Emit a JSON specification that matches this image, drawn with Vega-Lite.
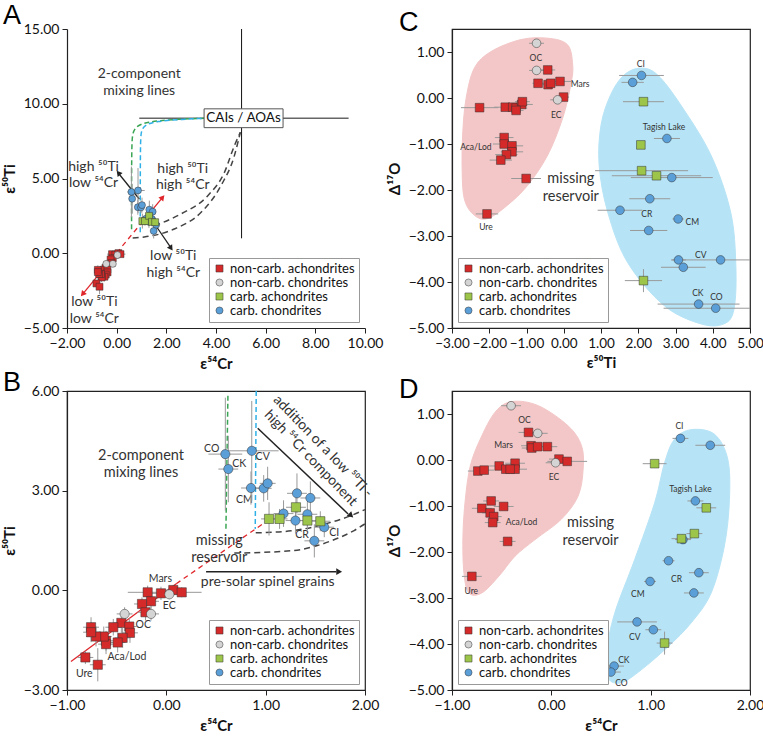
{
"$schema":"https://vega.github.io/schema/vega-lite/v6.json",
"padding":{"left":1,"top":2,"right":0,"bottom":2},
"background":"white",
"datasets":{
"AB":[
{"x":-0.188,"y":-0.06,"ex":0.2,"ey":0.2,"k":"non-carb. achondrites"},
{"x":-0.054,"y":-0.09,"ex":0.1,"ey":0.2,"k":"non-carb. achondrites"},
{"x":0.07,"y":0.01,"ex":0.1,"ey":0.15,"k":"non-carb. achondrites"},
{"x":0.155,"y":-0.06,"ex":0.2,"ey":0.15,"k":"non-carb. achondrites"},
{"x":-0.154,"y":-0.33,"ex":0.08,"ey":0.2,"k":"non-carb. achondrites"},
{"x":-0.245,"y":-0.41,"ex":0.08,"ey":0.2,"k":"non-carb. achondrites"},
{"x":-0.21,"y":-0.66,"ex":0.08,"ey":0.25,"k":"non-carb. achondrites"},
{"x":-0.453,"y":-0.98,"ex":0.08,"ey":0.3,"k":"non-carb. achondrites"},
{"x":-0.534,"y":-1.11,"ex":0.08,"ey":0.25,"k":"non-carb. achondrites"},
{"x":-0.373,"y":-1.09,"ex":0.08,"ey":0.25,"k":"non-carb. achondrites"},
{"x":-0.366,"y":-1.28,"ex":0.08,"ey":0.3,"k":"non-carb. achondrites"},
{"x":-0.44,"y":-1.43,"ex":0.08,"ey":0.3,"k":"non-carb. achondrites"},
{"x":-0.49,"y":-1.57,"ex":0.08,"ey":0.3,"k":"non-carb. achondrites"},
{"x":-0.607,"y":-1.52,"ex":0.08,"ey":0.3,"k":"non-carb. achondrites"},
{"x":-0.607,"y":-1.62,"ex":0.08,"ey":0.3,"k":"non-carb. achondrites"},
{"x":-0.63,"y":-1.39,"ex":0.08,"ey":0.3,"k":"non-carb. achondrites"},
{"x":-0.708,"y":-1.39,"ex":0.1,"ey":0.3,"k":"non-carb. achondrites"},
{"x":-0.758,"y":-1.11,"ex":0.08,"ey":0.3,"k":"non-carb. achondrites"},
{"x":-0.758,"y":-1.26,"ex":0.08,"ey":0.3,"k":"non-carb. achondrites"},
{"x":-0.815,"y":-2.02,"ex":0.08,"ey":0.2,"k":"non-carb. achondrites"},
{"x":-0.69,"y":-2.24,"ex":0.08,"ey":0.5,"k":"non-carb. achondrites"},
{"x":0.03,"y":-0.12,"ex":0.08,"ey":0.15,"k":"non-carb. chondrites"},
{"x":-0.154,"y":-0.71,"ex":0.08,"ey":0.2,"k":"non-carb. chondrites"},
{"x":-0.42,"y":-0.71,"ex":0.08,"ey":0.2,"k":"non-carb. chondrites"},
{"x":0.594,"y":4.10,"ex":0.17,"ey":1.7,"k":"carb. chondrites"},
{"x":0.624,"y":3.65,"ex":0.1,"ey":1.0,"k":"carb. chondrites"},
{"x":0.86,"y":4.20,"ex":0.27,"ey":1.5,"k":"carb. chondrites"},
{"x":0.852,"y":3.08,"ex":0.1,"ey":0.5,"k":"carb. chondrites"},
{"x":0.98,"y":3.07,"ex":0.08,"ey":0.4,"k":"carb. chondrites"},
{"x":1.02,"y":3.22,"ex":0.08,"ey":0.5,"k":"carb. chondrites"},
{"x":1.18,"y":2.31,"ex":0.1,"ey":0.4,"k":"carb. chondrites"},
{"x":1.315,"y":2.92,"ex":0.1,"ey":0.6,"k":"carb. chondrites"},
{"x":1.45,"y":2.78,"ex":0.1,"ey":0.5,"k":"carb. chondrites"},
{"x":1.30,"y":2.10,"ex":0.1,"ey":0.4,"k":"carb. chondrites"},
{"x":1.42,"y":2.29,"ex":0.1,"ey":0.4,"k":"carb. chondrites"},
{"x":1.59,"y":1.90,"ex":0.1,"ey":0.3,"k":"carb. chondrites"},
{"x":1.49,"y":1.49,"ex":0.1,"ey":0.5,"k":"carb. chondrites"},
{"x":1.034,"y":2.15,"ex":0.08,"ey":0.5,"k":"carb. achondrites"},
{"x":1.14,"y":2.15,"ex":0.08,"ey":0.3,"k":"carb. achondrites"},
{"x":1.305,"y":2.50,"ex":0.1,"ey":0.4,"k":"carb. achondrites"},
{"x":1.42,"y":2.10,"ex":0.1,"ey":0.3,"k":"carb. achondrites"},
{"x":1.55,"y":2.08,"ex":0.1,"ey":0.3,"k":"carb. achondrites"}
],
"C":[
{"x":-0.43,"y":0.61,"ex":0.2,"ey":0,"k":"non-carb. achondrites"},
{"x":-0.69,"y":0.32,"ex":0.15,"ey":0,"k":"non-carb. achondrites"},
{"x":-0.42,"y":0.29,"ex":0.15,"ey":0,"k":"non-carb. achondrites"},
{"x":-0.35,"y":0.32,"ex":0.2,"ey":0,"k":"non-carb. achondrites"},
{"x":-0.10,"y":0.36,"ex":0.3,"ey":0,"k":"non-carb. achondrites"},
{"x":-0.005,"y":0.02,"ex":0.15,"ey":0,"k":"non-carb. achondrites"},
{"x":-2.26,"y":-0.21,"ex":0.5,"ey":0,"k":"non-carb. achondrites"},
{"x":-1.57,"y":-0.20,"ex":0.3,"ey":0,"k":"non-carb. achondrites"},
{"x":-1.37,"y":-0.20,"ex":0.3,"ey":0,"k":"non-carb. achondrites"},
{"x":-1.28,"y":-0.22,"ex":0.3,"ey":0,"k":"non-carb. achondrites"},
{"x":-1.13,"y":-0.14,"ex":0.3,"ey":0,"k":"non-carb. achondrites"},
{"x":-1.11,"y":-0.08,"ex":0.2,"ey":0,"k":"non-carb. achondrites"},
{"x":-1.28,"y":-0.27,"ex":0.2,"ey":0,"k":"non-carb. achondrites"},
{"x":-1.60,"y":-0.86,"ex":0.25,"ey":0,"k":"non-carb. achondrites"},
{"x":-1.60,"y":-1.0,"ex":0.3,"ey":0,"k":"non-carb. achondrites"},
{"x":-1.39,"y":-1.04,"ex":0.3,"ey":0,"k":"non-carb. achondrites"},
{"x":-1.39,"y":-1.17,"ex":0.3,"ey":0,"k":"non-carb. achondrites"},
{"x":-1.54,"y":-1.23,"ex":0.3,"ey":0,"k":"non-carb. achondrites"},
{"x":-1.69,"y":-1.35,"ex":0.3,"ey":0,"k":"non-carb. achondrites"},
{"x":-1.01,"y":-1.75,"ex":0.4,"ey":0,"k":"non-carb. achondrites"},
{"x":-2.06,"y":-2.52,"ex":0.3,"ey":0,"k":"non-carb. achondrites"},
{"x":-0.73,"y":1.19,"ex":0.2,"ey":0,"k":"non-carb. chondrites"},
{"x":-0.73,"y":0.60,"ex":0.2,"ey":0,"k":"non-carb. chondrites"},
{"x":-0.165,"y":-0.04,"ex":0.2,"ey":0,"k":"non-carb. chondrites"},
{"x":2.087,"y":0.49,"ex":0.6,"ey":0,"k":"carb. chondrites"},
{"x":1.85,"y":0.34,"ex":0.3,"ey":0,"k":"carb. chondrites"},
{"x":2.77,"y":-0.88,"ex":0.35,"ey":0,"k":"carb. chondrites"},
{"x":2.90,"y":-1.73,"ex":1.1,"ey":0,"k":"carb. chondrites"},
{"x":2.31,"y":-2.19,"ex":0.55,"ey":0,"k":"carb. chondrites"},
{"x":1.51,"y":-2.44,"ex":0.6,"ey":0,"k":"carb. chondrites"},
{"x":3.07,"y":-2.63,"ex":0.15,"ey":0,"k":"carb. chondrites"},
{"x":2.28,"y":-2.88,"ex":0.5,"ey":0,"k":"carb. chondrites"},
{"x":3.08,"y":-3.52,"ex":0.2,"ey":0,"k":"carb. chondrites"},
{"x":3.21,"y":-3.68,"ex":0.6,"ey":0,"k":"carb. chondrites"},
{"x":4.21,"y":-3.52,"ex":1.3,"ey":0,"k":"carb. chondrites"},
{"x":3.62,"y":-4.48,"ex":1.1,"ey":0,"k":"carb. chondrites"},
{"x":4.08,"y":-4.57,"ex":1.4,"ey":0,"k":"carb. chondrites"},
{"x":2.14,"y":-0.08,"ex":0.55,"ey":0,"k":"carb. achondrites"},
{"x":2.07,"y":-1.02,"ex":0.1,"ey":0,"k":"carb. achondrites"},
{"x":2.09,"y":-1.58,"ex":1.25,"ey":0,"k":"carb. achondrites"},
{"x":2.49,"y":-1.69,"ex":1.2,"ey":0,"k":"carb. achondrites"},
{"x":2.14,"y":-3.97,"ex":0.5,"ey":0.25,"k":"carb. achondrites"}
],
"D":[
{"x":-0.23,"y":0.60,"ex":0.1,"ey":0,"k":"non-carb. achondrites"},
{"x":-0.204,"y":0.31,"ex":0.1,"ey":0,"k":"non-carb. achondrites"},
{"x":-0.197,"y":0.26,"ex":0.1,"ey":0,"k":"non-carb. achondrites"},
{"x":-0.137,"y":0.29,"ex":0.1,"ey":0,"k":"non-carb. achondrites"},
{"x":-0.04,"y":0.29,"ex":0.1,"ey":0,"k":"non-carb. achondrites"},
{"x":0.077,"y":0.02,"ex":0.1,"ey":0,"k":"non-carb. achondrites"},
{"x":0.16,"y":-0.03,"ex":0.2,"ey":0,"k":"non-carb. achondrites"},
{"x":-0.74,"y":-0.24,"ex":0.1,"ey":0,"k":"non-carb. achondrites"},
{"x":-0.676,"y":-0.22,"ex":0.1,"ey":0,"k":"non-carb. achondrites"},
{"x":-0.525,"y":-0.13,"ex":0.1,"ey":0,"k":"non-carb. achondrites"},
{"x":-0.458,"y":-0.20,"ex":0.1,"ey":0,"k":"non-carb. achondrites"},
{"x":-0.365,"y":-0.07,"ex":0.1,"ey":0,"k":"non-carb. achondrites"},
{"x":-0.365,"y":-0.20,"ex":0.12,"ey":0,"k":"non-carb. achondrites"},
{"x":-0.415,"y":-0.20,"ex":0.1,"ey":0,"k":"non-carb. achondrites"},
{"x":-0.606,"y":-0.89,"ex":0.08,"ey":0,"k":"non-carb. achondrites"},
{"x":-0.70,"y":-1.05,"ex":0.1,"ey":0,"k":"non-carb. achondrites"},
{"x":-0.48,"y":-1.01,"ex":0.1,"ey":0,"k":"non-carb. achondrites"},
{"x":-0.616,"y":-1.15,"ex":0.08,"ey":0,"k":"non-carb. achondrites"},
{"x":-0.58,"y":-1.23,"ex":0.08,"ey":0,"k":"non-carb. achondrites"},
{"x":-0.59,"y":-1.36,"ex":0.08,"ey":0,"k":"non-carb. achondrites"},
{"x":-0.44,"y":-1.77,"ex":0.08,"ey":0,"k":"non-carb. achondrites"},
{"x":-0.80,"y":-2.53,"ex":0.1,"ey":0,"k":"non-carb. achondrites"},
{"x":-0.405,"y":1.18,"ex":0.1,"ey":0,"k":"non-carb. chondrites"},
{"x":-0.137,"y":0.58,"ex":0.1,"ey":0,"k":"non-carb. chondrites"},
{"x":0.043,"y":-0.06,"ex":0.1,"ey":0,"k":"non-carb. chondrites"},
{"x":1.30,"y":0.47,"ex":0.08,"ey":0,"k":"carb. chondrites"},
{"x":1.60,"y":0.32,"ex":0.15,"ey":0,"k":"carb. chondrites"},
{"x":1.45,"y":-0.89,"ex":0.08,"ey":0,"k":"carb. chondrites"},
{"x":1.325,"y":-1.73,"ex":0.08,"ey":0,"k":"carb. chondrites"},
{"x":1.18,"y":-2.19,"ex":0.06,"ey":0,"k":"carb. chondrites"},
{"x":1.485,"y":-2.45,"ex":0.1,"ey":0,"k":"carb. chondrites"},
{"x":0.994,"y":-2.64,"ex":0.06,"ey":0,"k":"carb. chondrites"},
{"x":1.435,"y":-2.89,"ex":0.1,"ey":0,"k":"carb. chondrites"},
{"x":0.863,"y":-3.52,"ex":0.2,"ey":0,"k":"carb. chondrites"},
{"x":1.027,"y":-3.69,"ex":0.08,"ey":0,"k":"carb. chondrites"},
{"x":0.632,"y":-4.48,"ex":0.1,"ey":0,"k":"carb. chondrites"},
{"x":0.60,"y":-4.61,"ex":0.1,"ey":0,"k":"carb. chondrites"},
{"x":1.04,"y":-0.08,"ex":0.12,"ey":0,"k":"carb. achondrites"},
{"x":1.56,"y":-1.04,"ex":0.1,"ey":0,"k":"carb. achondrites"},
{"x":1.44,"y":-1.60,"ex":0.08,"ey":0,"k":"carb. achondrites"},
{"x":1.31,"y":-1.71,"ex":0.1,"ey":0,"k":"carb. achondrites"},
{"x":1.14,"y":-3.98,"ex":0.08,"ey":0.25,"k":"carb. achondrites"}
]
},
"config":{
"font":"Lato",
"view":{"stroke":"#222","strokeWidth":1.2},
"axis":{"labelFont":"Lato","labelFontSize":14,"labelColor":"#111","titleFont":"Lato","titleFontSize":15,"titleFontWeight":"bold","titleColor":"#111","domainColor":"#222","domainWidth":1.2,"tickColor":"#222","tickSize":5,"grid":false,"labelPadding":3,"titlePadding":6,"labelFlush":false,"labelOverlap":false},
"title":{"anchor":"start","frame":"group","fontSize":27,"font":"Liberation Sans","fontWeight":"normal","color":"#000"},
"text":{"font":"Lato","fontSize":14,"color":"#333"}
},
"spacing":362,
"bounds":"flush",
"resolve":{"scale":{"color":"independent","shape":"independent"},"legend":{"color":"independent","shape":"independent"}},
"vconcat":[
{"hconcat":[
{
"width":298,"height":299,
"title":{"text":"A","dx":-64,"offset":-8},
"view":{"stroke":null},
"encoding":{
"x":{"field":"x","type":"quantitative","scale":{"domain":[-2,10],"nice":false,"zero":false},"axis":{"values":[-2,0,2,4,6,8,10],"format":".2f"},"title":"ε⁵⁴Cr"},
"y":{"field":"y","type":"quantitative","scale":{"domain":[-5,15],"nice":false,"zero":false},"axis":{"values":[-5,0,5,10,15],"format":".2f"},"title":"ε⁵⁰Ti"}
},
"layer":[
{"data":{"values":[{"x":0.91,"y":9.03},{"x":9.34,"y":9.03}]},"mark":{"type":"line","color":"#666","strokeWidth":1.5},"encoding":{"order":{"value":null}}},
{"data":{"values":[{"x":5.03,"y":15},{"x":5.03,"y":1.0}]},"mark":{"type":"line","color":"#111","strokeWidth":1},"encoding":{"order":{"value":null}}},
{"data":{"values":[{"x":0.60,"y":1.6},{"x":0.60,"y":7.2},{"x":0.64,"y":8.1},{"x":0.8,"y":8.5},{"x":1.2,"y":8.78},{"x":2.2,"y":8.95},{"x":3.53,"y":9.03}]},"mark":{"type":"line","color":"#3aa655","strokeWidth":1.5,"strokeDash":[5,3],"interpolate":"basis"},"encoding":{"order":{"value":null}}},
{"data":{"values":[{"x":0.95,"y":1.4},{"x":0.95,"y":7.5},{"x":0.99,"y":8.25},{"x":1.15,"y":8.6},{"x":1.6,"y":8.82},{"x":2.5,"y":8.95},{"x":3.53,"y":9.03}]},"mark":{"type":"line","color":"#2fb0e6","strokeWidth":1.5,"strokeDash":[5,3],"interpolate":"basis"},"encoding":{"order":{"value":null}}},
{"data":{"values":[{"x":0.645,"y":1.02},{"x":1.11,"y":1.09},{"x":2.32,"y":1.62},{"x":3.40,"y":2.74},{"x":4.20,"y":4.52},{"x":4.74,"y":6.53},{"x":4.98,"y":8.09}]},"mark":{"type":"line","color":"#444","strokeWidth":1.5,"strokeDash":[6,4],"interpolate":"monotone"},"encoding":{"order":{"value":null}}},
{"data":{"values":[{"x":1.52,"y":1.84},{"x":2.59,"y":2.63},{"x":3.67,"y":3.85},{"x":4.34,"y":5.41},{"x":4.74,"y":7.19},{"x":4.98,"y":8.09}]},"mark":{"type":"line","color":"#444","strokeWidth":1.5,"strokeDash":[6,4],"interpolate":"monotone"},"encoding":{"order":{"value":null}}},
{"data":{"values":[{"x":-1.37,"y":-2.73},{"x":-0.23,"y":-0.44}]},"mark":{"type":"line","color":"#e0262b","strokeWidth":1.3},"encoding":{"order":{"value":null}}},
{"data":{"values":[{"x":-0.23,"y":-0.44},{"x":1.05,"y":2.13}]},"mark":{"type":"line","color":"#e0262b","strokeWidth":1.3,"strokeDash":[5,4]},"encoding":{"order":{"value":null}}},
{"data":{"values":[{"x":1.05,"y":2.13},{"x":1.80,"y":3.64}]},"mark":{"type":"line","color":"#e0262b","strokeWidth":1.3},"encoding":{"order":{"value":null}}},
{"data":{"values":[{"x":1.85,"y":3.74}]},"mark":{"type":"point","shape":"triangle-up","filled":true,"opacity":1,"size":40,"color":"#e0262b","angle":40}},
{"data":{"values":[{"x":-1.37,"y":-2.73}]},"mark":{"type":"point","shape":"triangle-up","filled":true,"opacity":1,"size":40,"color":"#e0262b","angle":220}},
{"data":{"values":[{"x":0.91,"y":3.63},{"x":0.12,"y":5.25}]},"mark":{"type":"line","color":"#222","strokeWidth":1.3},"encoding":{"order":{"value":null}}},
{"data":{"values":[{"x":0.07,"y":5.37}]},"mark":{"type":"point","shape":"triangle-up","filled":true,"opacity":1,"size":40,"color":"#222","angle":321}},
{"data":{"values":[{"x":1.58,"y":1.84},{"x":2.16,"y":0.43}]},"mark":{"type":"line","color":"#222","strokeWidth":1.3},"encoding":{"order":{"value":null}}},
{"data":{"values":[{"x":2.19,"y":0.33}]},"mark":{"type":"point","shape":"triangle-up","filled":true,"opacity":1,"size":40,"color":"#222","angle":146}},
{"data":{"values":[{"x":3.52,"x2":6.70,"y":8.40,"y2":9.66}]},"mark":{"type":"rect","fill":"white","stroke":"#555","strokeWidth":1},"encoding":{"x2":{"field":"x2"},"y2":{"field":"y2"}}},
{"data":{"values":[{"x":5.11,"y":9.03,"t":"CAIs / AOAs"}]},"mark":{"type":"text","fontSize":13.5,"color":"#111","align":"center","baseline":"middle"},"encoding":{"text":{"field":"t"}}},
{"data":{"values":[{"x":0.91,"y":11.99,"t":"2-component\nmixing lines"}]},"mark":{"type":"text","fontSize":14,"lineBreak":"\n","lineHeight":17.5,"align":"center","baseline":"middle"},"encoding":{"text":{"field":"t"}}},
{"data":{"values":[{"x":-0.93,"y":5.79,"t":"high ⁵⁰Ti\nlow ⁵⁴Cr"},{"x":2.66,"y":5.64,"t":"high ⁵⁰Ti\nhigh ⁵⁴Cr"},{"x":2.28,"y":-0.2,"t":"low ⁵⁰Ti\nhigh ⁵⁴Cr"},{"x":-0.9,"y":-3.28,"t":"low ⁵⁰Ti\nlow ⁵⁴Cr"}]},"mark":{"type":"text","fontSize":14,"lineBreak":"\n","lineHeight":16.5,"align":"center","baseline":"middle"},"encoding":{"text":{"field":"t"}}},
{"data":{"name":"AB"},"mark":{"type":"errorbar","color":"#999","thickness":1},"encoding":{"xError":{"field":"ex"}}},
{"data":{"name":"AB"},"mark":{"type":"errorbar","color":"#999","thickness":1},"encoding":{"yError":{"field":"ey"}}},
{"data":{"name":"AB"},"mark":{"type":"point","filled":true,"opacity":1,"size":48,"stroke":"#333","strokeWidth":0.5},
"encoding":{
"color":{"field":"k","type":"nominal","scale":{"domain":["non-carb. achondrites","non-carb. chondrites","carb. achondrites","carb. chondrites"],"range":["#d42a2a","#d4d4d4","#9cc54a","#5b9fd9"]},"legend":{"orient":"bottom-right","title":null,"offset":6,"padding":4,"strokeColor":"#999","fillColor":"white","labelFontSize":13,"labelFont":"Lato","labelColor":"#111","symbolSize":50,"rowPadding":0,"labelOffset":4,"symbolStrokeColor":"#333","symbolStrokeWidth":0.5}},
"shape":{"field":"k","type":"nominal","scale":{"domain":["non-carb. achondrites","non-carb. chondrites","carb. achondrites","carb. chondrites"],"range":["square","circle","square","circle"]},"legend":{"orient":"bottom-right","title":null,"offset":6,"padding":4,"strokeColor":"#999","fillColor":"white","labelFontSize":13,"labelFont":"Lato","labelColor":"#111","symbolSize":50,"rowPadding":0,"labelOffset":4,"symbolStrokeColor":"#333","symbolStrokeWidth":0.5}}
}}
]
},
{
"width":298,"height":299,
"title":{"text":"C","dx":-53,"offset":-8},
"encoding":{
"x":{"field":"x","type":"quantitative","scale":{"domain":[-3,5],"nice":false,"zero":false},"axis":{"values":[-3,-2,-1,0,1,2,3,4,5],"format":".2f","labelFontSize":13.5},"title":"ε⁵⁰Ti"},
"y":{"field":"y","type":"quantitative","scale":{"domain":[-5,1.5],"nice":false,"zero":false},"axis":{"values":[-5,-4,-3,-2,-1,0,1],"format":".2f"},"title":"Δ¹⁷O"}
},
"layer":[
{"data":{"values":[{"x":-0.43,"y":1.30},{"x":0.10,"y":1.16},{"x":0.24,"y":0.72},{"x":0.19,"y":0.29},{"x":-0.03,"y":-0.44},{"x":-0.43,"y":-1.24},{"x":-0.97,"y":-1.90},{"x":-1.51,"y":-2.33},{"x":-2.04,"y":-2.62},{"x":-2.40,"y":-2.55},{"x":-2.67,"y":-2.19},{"x":-2.73,"y":-1.46},{"x":-2.71,"y":-0.73},{"x":-2.62,"y":0.0},{"x":-2.40,"y":0.65},{"x":-1.95,"y":1.01},{"x":-1.15,"y":1.27}]},"mark":{"type":"line","interpolate":"cardinal-closed","fill":"#f3c7c7","color":"#f3c7c7","strokeWidth":1},"encoding":{"order":{"value":null}}},
{"data":{"values":[{"x":2.07,"y":0.65},{"x":2.52,"y":0.50},{"x":3.14,"y":-0.15},{"x":3.95,"y":-1.24},{"x":4.48,"y":-2.48},{"x":4.62,"y":-3.64},{"x":4.57,"y":-4.59},{"x":4.30,"y":-4.91},{"x":3.68,"y":-4.91},{"x":2.69,"y":-4.51},{"x":1.71,"y":-3.57},{"x":1.18,"y":-2.48},{"x":0.95,"y":-1.46},{"x":1.0,"y":-0.59},{"x":1.26,"y":0.07},{"x":1.62,"y":0.50}]},"mark":{"type":"line","interpolate":"cardinal-closed","fill":"#b6e4f6","color":"#b6e4f6","strokeWidth":1},"encoding":{"order":{"value":null}}},
{"data":{"values":[{"x":0.19,"y":-1.75,"t":"missing\nreservoir"}]},"mark":{"type":"text","fontSize":14.5,"lineBreak":"\n","lineHeight":18,"align":"center","baseline":"middle"},"encoding":{"text":{"field":"t"}}},
{"data":{"values":[{"x":-0.75,"y":0.88,"t":"OC"},{"x":0.44,"y":0.31,"t":"Mars"},{"x":-0.20,"y":-0.37,"t":"EC"},{"x":-2.36,"y":-1.06,"t":"Aca/Lod"},{"x":-2.09,"y":-2.8,"t":"Ure"},{"x":2.07,"y":0.74,"t":"CI"},{"x":2.69,"y":-0.62,"t":"Tagish Lake"},{"x":2.23,"y":-2.53,"t":"CR"},{"x":3.45,"y":-2.69,"t":"CM"},{"x":3.68,"y":-3.42,"t":"CV"},{"x":3.60,"y":-4.24,"t":"CK"},{"x":4.10,"y":-4.33,"t":"CO"}]},"mark":{"type":"text","font":"Lato","fontSize":8.5,"align":"center","baseline":"middle","color":"#333"},"encoding":{"text":{"field":"t"}}},
{"data":{"name":"C"},"mark":{"type":"errorbar","color":"#999","thickness":1,"clip":true},"encoding":{"xError":{"field":"ex"}}},
{"data":{"name":"C"},"mark":{"type":"errorbar","color":"#999","thickness":1,"clip":true},"encoding":{"yError":{"field":"ey"}}},
{"data":{"name":"C"},"mark":{"type":"point","filled":true,"opacity":1,"size":75,"stroke":"#333","strokeWidth":0.5},
"encoding":{
"color":{"field":"k","type":"nominal","scale":{"domain":["non-carb. achondrites","non-carb. chondrites","carb. achondrites","carb. chondrites"],"range":["#d42a2a","#d4d4d4","#9cc54a","#5b9fd9"]},"legend":{"orient":"bottom-left","title":null,"offset":6,"padding":4,"strokeColor":"#999","fillColor":"white","labelFontSize":13,"labelFont":"Lato","labelColor":"#111","symbolSize":50,"rowPadding":0,"labelOffset":4,"symbolStrokeColor":"#333","symbolStrokeWidth":0.5}},
"shape":{"field":"k","type":"nominal","scale":{"domain":["non-carb. achondrites","non-carb. chondrites","carb. achondrites","carb. chondrites"],"range":["square","circle","square","circle"]},"legend":{"orient":"bottom-left","title":null,"offset":6,"padding":4,"strokeColor":"#999","fillColor":"white","labelFontSize":13,"labelFont":"Lato","labelColor":"#111","symbolSize":50,"rowPadding":0,"labelOffset":4,"symbolStrokeColor":"#333","symbolStrokeWidth":0.5}}
}}
]
}
],"spacing":87,"bounds":"flush",
"resolve":{"scale":{"color":"independent","shape":"independent"},"legend":{"color":"independent","shape":"independent"}}},
{"hconcat":[
{
"width":298,"height":299,
"title":{"text":"B","dx":-64,"offset":-13},
"encoding":{
"x":{"field":"x","type":"quantitative","scale":{"domain":[-1,2],"nice":false,"zero":false},"axis":{"values":[-1,0,1,2],"format":".2f"},"title":"ε⁵⁴Cr"},
"y":{"field":"y","type":"quantitative","scale":{"domain":[-3,6],"nice":false,"zero":false},"axis":{"values":[-3,0,3,6],"format":".2f"},"title":"ε⁵⁰Ti"}
},
"layer":[
{"data":{"values":[{"x":0.62,"y":5.86},{"x":0.60,"y":1.85}]},"mark":{"type":"line","color":"#3aa655","strokeWidth":1.5,"strokeDash":[5,3]},"encoding":{"order":{"value":null}}},
{"data":{"values":[{"x":0.905,"y":6.0},{"x":0.895,"y":1.85}]},"mark":{"type":"line","color":"#2fb0e6","strokeWidth":1.5,"strokeDash":[5,3]},"encoding":{"order":{"value":null}}},
{"data":{"values":[{"x":0.90,"y":1.73},{"x":1.255,"y":1.79},{"x":1.66,"y":2.05},{"x":1.86,"y":2.25},{"x":2.0,"y":2.43}]},"mark":{"type":"line","color":"#444","strokeWidth":1.5,"strokeDash":[6,4],"interpolate":"monotone"},"encoding":{"order":{"value":null}}},
{"data":{"values":[{"x":0.684,"y":1.12},{"x":1.255,"y":1.19},{"x":1.66,"y":1.49},{"x":1.89,"y":1.8},{"x":2.0,"y":2.0}]},"mark":{"type":"line","color":"#444","strokeWidth":1.5,"strokeDash":[6,4],"interpolate":"monotone"},"encoding":{"order":{"value":null}}},
{"data":{"values":[{"x":-0.96,"y":-2.14},{"x":0.1,"y":0.2}]},"mark":{"type":"line","color":"#e0262b","strokeWidth":1.3},"encoding":{"order":{"value":null}}},
{"data":{"values":[{"x":0.1,"y":0.2},{"x":1.02,"y":2.10}]},"mark":{"type":"line","color":"#e0262b","strokeWidth":1.3,"strokeDash":[5,4]},"encoding":{"order":{"value":null}}},
{"data":{"values":[{"x":0.92,"y":4.88},{"x":1.83,"y":2.30}]},"mark":{"type":"line","color":"#222","strokeWidth":1.5},"encoding":{"order":{"value":null}}},
{"data":{"values":[{"x":1.86,"y":2.25}]},"mark":{"type":"point","shape":"triangle-up","filled":true,"opacity":1,"size":45,"color":"#222","angle":133}},
{"data":{"values":[{"x":0.40,"y":0.56},{"x":1.71,"y":0.56}]},"mark":{"type":"line","color":"#222","strokeWidth":1.5},"encoding":{"order":{"value":null}}},
{"data":{"values":[{"x":1.74,"y":0.56}]},"mark":{"type":"point","shape":"triangle-up","filled":true,"opacity":1,"size":45,"color":"#222","angle":90}},
{"data":{"values":[{"x":-0.255,"y":4.05,"t":"2-component\nmixing lines"},{"x":0.533,"y":1.49,"t":"missing\nreservoir"}]},"mark":{"type":"text","fontSize":14.5,"lineBreak":"\n","lineHeight":17.5,"align":"center","baseline":"middle"},"encoding":{"text":{"field":"t"}}},
{"data":{"values":[{"x":1.02,"y":0.26,"t":"pre-solar spinel grains"}]},"mark":{"type":"text","fontSize":14,"align":"center","baseline":"middle"},"encoding":{"text":{"field":"t"}}},
{"data":{"values":[{"x":1.575,"y":4.33,"t":"addition of a low ⁵⁰Ti -\nhigh ⁵⁴Cr component"}]},"mark":{"type":"text","fontSize":14,"lineBreak":"\n","lineHeight":17,"align":"center","baseline":"middle","angle":46},"encoding":{"text":{"field":"t"}}},
{"data":{"values":[{"x":0.457,"y":4.25,"t":"CO"},{"x":0.735,"y":3.80,"t":"CK"},{"x":0.97,"y":4.0,"t":"CV"},{"x":0.785,"y":2.73,"t":"CM"},{"x":1.366,"y":1.67,"t":"CR"},{"x":1.69,"y":1.73,"t":"CI"},{"x":-0.06,"y":0.34,"t":"Mars"},{"x":0.03,"y":-0.48,"t":"EC"},{"x":-0.232,"y":-1.03,"t":"OC"},{"x":-0.396,"y":-2.0,"t":"Aca/Lod"},{"x":-0.826,"y":-2.52,"t":"Ure"}]},"mark":{"type":"text","font":"Lato","fontSize":10.5,"align":"center","baseline":"middle","color":"#333"},"encoding":{"text":{"field":"t"}}},
{"data":{"name":"AB"},"mark":{"type":"errorbar","color":"#999","thickness":1},"encoding":{"xError":{"field":"ex"}}},
{"data":{"name":"AB"},"mark":{"type":"errorbar","color":"#999","thickness":1},"encoding":{"yError":{"field":"ey"}}},
{"data":{"name":"AB"},"mark":{"type":"point","filled":true,"opacity":1,"size":85,"stroke":"#333","strokeWidth":0.5},
"encoding":{
"color":{"field":"k","type":"nominal","scale":{"domain":["non-carb. achondrites","non-carb. chondrites","carb. achondrites","carb. chondrites"],"range":["#d42a2a","#d4d4d4","#9cc54a","#5b9fd9"]},"legend":{"orient":"bottom-right","title":null,"offset":6,"padding":4,"strokeColor":"#999","fillColor":"white","labelFontSize":13,"labelFont":"Lato","labelColor":"#111","symbolSize":50,"rowPadding":0,"labelOffset":4,"symbolStrokeColor":"#333","symbolStrokeWidth":0.5}},
"shape":{"field":"k","type":"nominal","scale":{"domain":["non-carb. achondrites","non-carb. chondrites","carb. achondrites","carb. chondrites"],"range":["square","circle","square","circle"]},"legend":{"orient":"bottom-right","title":null,"offset":6,"padding":4,"strokeColor":"#999","fillColor":"white","labelFontSize":13,"labelFont":"Lato","labelColor":"#111","symbolSize":50,"rowPadding":0,"labelOffset":4,"symbolStrokeColor":"#333","symbolStrokeWidth":0.5}}
}}
]
},
{
"width":298,"height":299,
"title":{"text":"D","dx":-53,"offset":-13},
"encoding":{
"x":{"field":"x","type":"quantitative","scale":{"domain":[-1,2],"nice":false,"zero":false},"axis":{"values":[-1,0,1,2],"format":".2f"},"title":"ε⁵⁴Cr"},
"y":{"field":"y","type":"quantitative","scale":{"domain":[-5,1.5],"nice":false,"zero":false},"axis":{"values":[-5,-4,-3,-2,-1,0,1],"format":".2f"},"title":"Δ¹⁷O"}
},
"layer":[
{"data":{"values":[{"x":-0.398,"y":1.27},{"x":-0.13,"y":1.18},{"x":0.17,"y":0.74},{"x":0.304,"y":0.31},{"x":0.32,"y":-0.20},{"x":0.27,"y":-0.78},{"x":0.10,"y":-1.29},{"x":-0.164,"y":-1.73},{"x":-0.365,"y":-2.09},{"x":-0.53,"y":-2.53},{"x":-0.70,"y":-2.89},{"x":-0.83,"y":-2.89},{"x":-0.88,"y":-2.45},{"x":-0.89,"y":-1.66},{"x":-0.866,"y":-0.86},{"x":-0.816,"y":-0.13},{"x":-0.716,"y":0.45},{"x":-0.566,"y":1.04}]},"mark":{"type":"line","interpolate":"cardinal-closed","fill":"#f3c7c7","color":"#f3c7c7","strokeWidth":1},"encoding":{"order":{"value":null}}},
{"data":{"values":[{"x":1.408,"y":0.66},{"x":1.642,"y":0.56},{"x":1.776,"y":0.02},{"x":1.793,"y":-0.86},{"x":1.742,"y":-1.87},{"x":1.609,"y":-2.89},{"x":1.408,"y":-3.54},{"x":1.174,"y":-4.06},{"x":0.906,"y":-4.56},{"x":0.706,"y":-4.84},{"x":0.572,"y":-4.74},{"x":0.555,"y":-4.20},{"x":0.638,"y":-3.33},{"x":0.84,"y":-2.16},{"x":1.04,"y":-0.93},{"x":1.14,"y":-0.06},{"x":1.24,"y":0.45}]},"mark":{"type":"line","interpolate":"cardinal-closed","fill":"#b6e4f6","color":"#b6e4f6","strokeWidth":1},"encoding":{"order":{"value":null}}},
{"data":{"values":[{"x":0.395,"y":-1.36,"t":"missing\nreservoir"}]},"mark":{"type":"text","fontSize":14.5,"lineBreak":"\n","lineHeight":18,"align":"center","baseline":"middle"},"encoding":{"text":{"field":"t"}}},
{"data":{"values":[{"x":-0.27,"y":0.87,"t":"OC"},{"x":-0.48,"y":0.33,"t":"Mars"},{"x":0.027,"y":-0.36,"t":"EC"},{"x":-0.30,"y":-1.34,"t":"Aca/Lod"},{"x":-0.806,"y":-2.84,"t":"Ure"},{"x":1.29,"y":0.74,"t":"CI"},{"x":1.40,"y":-0.64,"t":"Tagish Lake"},{"x":1.26,"y":-2.58,"t":"CR"},{"x":0.87,"y":-2.91,"t":"CM"},{"x":0.84,"y":-3.85,"t":"CV"},{"x":0.73,"y":-4.35,"t":"CK"},{"x":0.706,"y":-4.84,"t":"CO"}]},"mark":{"type":"text","font":"Lato","fontSize":8.5,"align":"center","baseline":"middle","color":"#333"},"encoding":{"text":{"field":"t"}}},
{"data":{"name":"D"},"mark":{"type":"errorbar","color":"#999","thickness":1,"clip":true},"encoding":{"xError":{"field":"ex"}}},
{"data":{"name":"D"},"mark":{"type":"errorbar","color":"#999","thickness":1,"clip":true},"encoding":{"yError":{"field":"ey"}}},
{"data":{"name":"D"},"mark":{"type":"point","filled":true,"opacity":1,"size":75,"stroke":"#333","strokeWidth":0.5},
"encoding":{
"color":{"field":"k","type":"nominal","scale":{"domain":["non-carb. achondrites","non-carb. chondrites","carb. achondrites","carb. chondrites"],"range":["#d42a2a","#d4d4d4","#9cc54a","#5b9fd9"]},"legend":{"orient":"bottom-left","title":null,"offset":6,"padding":4,"strokeColor":"#999","fillColor":"white","labelFontSize":13,"labelFont":"Lato","labelColor":"#111","symbolSize":50,"rowPadding":0,"labelOffset":4,"symbolStrokeColor":"#333","symbolStrokeWidth":0.5}},
"shape":{"field":"k","type":"nominal","scale":{"domain":["non-carb. achondrites","non-carb. chondrites","carb. achondrites","carb. chondrites"],"range":["square","circle","square","circle"]},"legend":{"orient":"bottom-left","title":null,"offset":6,"padding":4,"strokeColor":"#999","fillColor":"white","labelFontSize":13,"labelFont":"Lato","labelColor":"#111","symbolSize":50,"rowPadding":0,"labelOffset":4,"symbolStrokeColor":"#333","symbolStrokeWidth":0.5}}
}}
]
}
],"spacing":87,"bounds":"flush",
"resolve":{"scale":{"color":"independent","shape":"independent"},"legend":{"color":"independent","shape":"independent"}}}
]
}
